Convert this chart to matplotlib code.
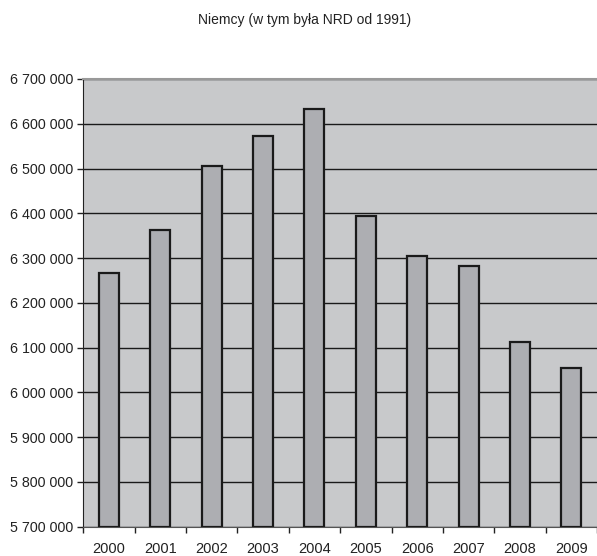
import numpy as np
import matplotlib.pyplot as plt
from matplotlib.ticker import FuncFormatter

years = ["2000", "2001", "2002", "2003", "2004", "2005", "2006", "2007", "2008", "2009"]
values = [6266000, 6362000, 6506000, 6573000, 6634000, 6393000, 6305000, 6283000, 6113000, 6055000]

plt.rcParams['font.family'] = ['Liberation Sans', 'DejaVu Sans']

fig = plt.figure(figsize=(5.97, 5.56), dpi=100)
ax = fig.add_axes([83.3 / 597, 1 - 526.7 / 556, (597 - 83.3) / 597, (526.7 - 79) / 556])
ax.set_facecolor('#c8c9cb')

x = np.arange(len(years))
ax.bar(x, np.array(values) - 5700000, bottom=5700000, width=0.39,
       color='#adaeb2', edgecolor='#1a1a1a', linewidth=1.6, zorder=3)

ax.set_ylim(5700000, 6700000)
ax.set_xlim(-0.5, len(years) - 0.5)
ax.set_yticks(np.arange(5700000, 6700001, 100000))
ax.yaxis.set_major_formatter(FuncFormatter(lambda v, p: f"{int(v):,}".replace(",", " ")))
ax.grid(axis='y', color='#1a1a1a', linewidth=1.0, zorder=1)

# category labels in the middle, tick marks on the boundaries
ax.set_xticks(x)
ax.set_xticklabels(years)
ax.set_xticks(np.arange(-0.5, len(years)), minor=True)
ax.tick_params(axis='x', which='major', length=0, pad=11, labelsize=10.5, colors='#222222')
ax.tick_params(axis='x', which='minor', length=4, width=1, color='#222222', direction='out')
ax.tick_params(axis='y', length=4, width=1, color='#222222', labelsize=10.3, labelcolor='#222222', pad=3)

ax.spines['right'].set_visible(False)
ax.spines['top'].set_color('#999999')
ax.spines['top'].set_linewidth(1.5)
ax.spines['left'].set_color('#222222')
ax.spines['bottom'].set_color('#555555')

fig.text(0.51, 1 - 20 / 556, "Niemcy (w tym była NRD od 1991)", ha='center', va='center',
         fontsize=10, color='#222222')

fig.savefig("out.png", dpi=100)
